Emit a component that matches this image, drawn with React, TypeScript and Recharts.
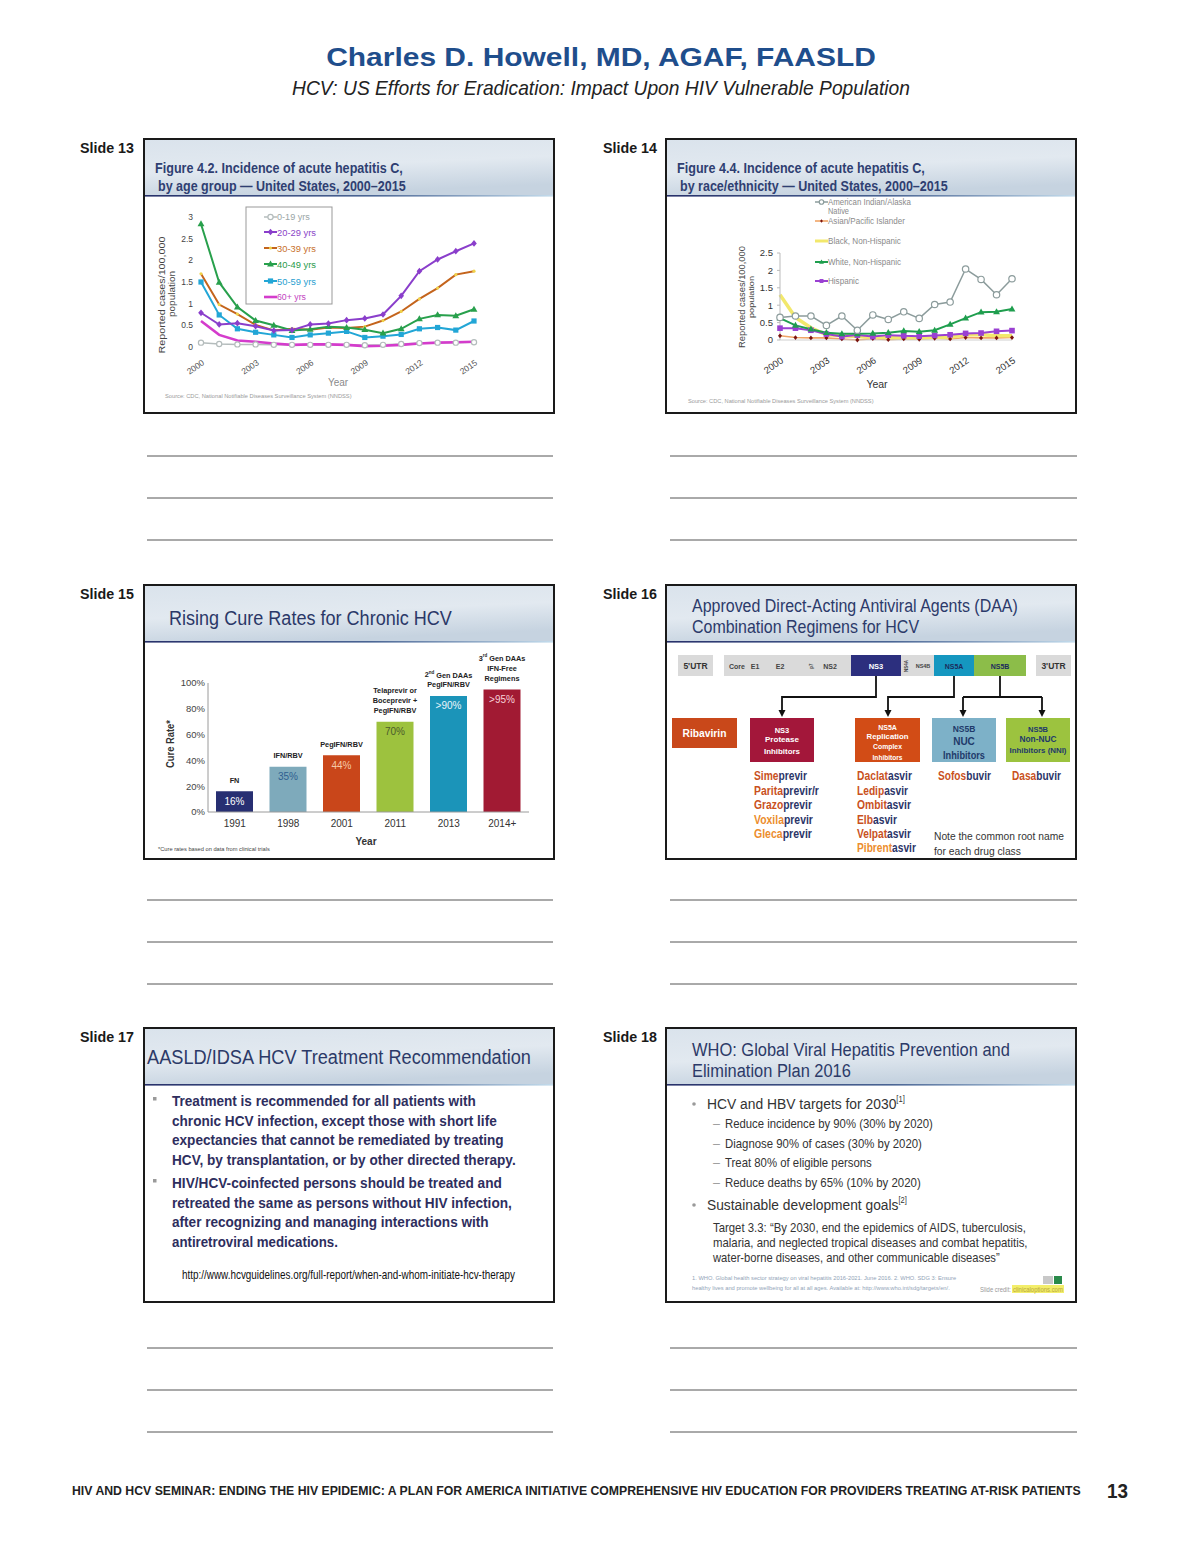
import React, { useLayoutEffect, useRef, useState } from 'react';
import { LineChart, Line, XAxis, YAxis, BarChart, Bar, LabelList, Cell } from 'recharts';

const SANS = "'Liberation Sans', Arial, Helvetica, sans-serif";

// ---- Slide 13: incidence by age group ----
const years = [2000, 2001, 2002, 2003, 2004, 2005, 2006, 2007, 2008, 2009, 2010, 2011, 2012, 2013, 2014, 2015];
const age0to19 = [0.1, 0.07, 0.06, 0.06, 0.05, 0.05, 0.05, 0.05, 0.05, 0.04, 0.05, 0.07, 0.09, 0.1, 0.1, 0.11];
const age20to29 = [0.79, 0.52, 0.55, 0.48, 0.38, 0.39, 0.52, 0.54, 0.62, 0.66, 0.75, 1.18, 1.75, 2.02, 2.21, 2.39];
const age30to39 = [1.69, 0.98, 0.76, 0.51, 0.38, 0.42, 0.4, 0.45, 0.44, 0.47, 0.61, 0.82, 1.11, 1.36, 1.67, 1.75];
const age40to49 = [2.84, 1.49, 0.92, 0.61, 0.5, 0.38, 0.41, 0.47, 0.45, 0.4, 0.32, 0.42, 0.65, 0.74, 0.72, 0.87];
const age50to59 = [1.5, 0.74, 0.42, 0.34, 0.28, 0.22, 0.28, 0.32, 0.36, 0.22, 0.25, 0.29, 0.42, 0.45, 0.39, 0.6];
const age60plus = [0.6, 0.28, 0.15, 0.12, 0.08, 0.05, 0.06, 0.06, 0.05, 0.02, 0.03, 0.05, 0.08, 0.1, 0.11, 0.12];
const ageTicks = [0, 0.5, 1, 1.5, 2, 2.5, 3];

// ---- Slide 14: incidence by race/ethnicity ----
const raceAian = [0.65, 0.69, 0.69, 0.42, 0.69, 0.28, 0.72, 0.59, 0.81, 0.62, 1.02, 1.09, 2.04, 1.74, 1.3, 1.76];
const raceAsian = [0.12, 0.07, 0.06, 0.06, 0.03, 0.0, 0.04, 0.01, 0.03, 0.02, 0.05, 0.03, 0.07, 0.06, 0.06, 0.07];
const raceBlack = [1.3, 0.65, 0.35, 0.15, 0.12, 0.1, 0.08, 0.07, 0.06, 0.06, 0.08, 0.08, 0.15, 0.15, 0.12, 0.12];
const raceWhite = [0.63, 0.42, 0.31, 0.21, 0.18, 0.18, 0.19, 0.21, 0.26, 0.24, 0.28, 0.45, 0.63, 0.8, 0.81, 0.89];
const raceHispanic = [0.34, 0.34, 0.28, 0.17, 0.1, 0.14, 0.1, 0.14, 0.12, 0.11, 0.13, 0.15, 0.19, 0.2, 0.25, 0.27];
const raceTicks = [0, 0.5, 1, 1.5, 2, 2.5];

// ---- Slide 15: cure rates ----
const cureYears = ['1991', '1998', '2001', '2011', '2013', '2014+'];
const cureRates = [16, 35, 44, 70, 90, 95];
const cureLabels = ['16%', '35%', '44%', '70%', '>90%', '>95%'];
const regimens = ['FN', 'IFN/RBV', 'PegIFN/RBV', 'Telaprevir or|Boceprevir +|PegIFN/RBV', '2nd Gen DAAs|PegIFN/RBV', '3rd Gen DAAs|IFN-Free|Regimens'];
const cureTicks = [0, 20, 40, 60, 80, 100];
const barColors = ['#272f72', '#7eaabb', '#c9461a', '#9dc23e', '#1b94b9', '#a11a33'];
const valueColors = ['#ffffff', '#2f5f90', '#f5c9a8', '#4b5a2c', '#eaf4fa', '#f7d2da'];

type Shape = 'circle' | 'square' | 'triangle' | 'diamond' | 'dot' | 'none';

const ageSeries = [
  { key: 'a0', name: '0-19 yrs', values: age0to19, color: '#b4bcbc', text: '#9aa6a6', shape: 'circle' as Shape, width: 1.5, size: 2.6 },
  { key: 'a60', name: '60+ yrs', values: age60plus, color: '#d43ccc', text: '#c244c0', shape: 'none' as Shape, width: 2.6, size: 0 },
  { key: 'a50', name: '50-59 yrs', values: age50to59, color: '#22a6d6', text: '#2aa0d0', shape: 'square' as Shape, width: 2, size: 2.6 },
  { key: 'a30', name: '30-39 yrs', values: age30to39, color: '#c4641c', text: '#c8702a', shape: 'dot' as Shape, width: 2, size: 1.6 },
  { key: 'a40', name: '40-49 yrs', values: age40to49, color: '#28a04c', text: '#2a9a4a', shape: 'triangle' as Shape, width: 2, size: 3 },
  { key: 'a20', name: '20-29 yrs', values: age20to29, color: '#8a3ecb', text: '#8a44c8', shape: 'diamond' as Shape, width: 2, size: 2.8 },
];
const ageLegendOrder = ['a0', 'a20', 'a30', 'a40', 'a50', 'a60'];

const raceSeries = [
  { key: 'asian', name: 'Asian/Pacific Islander', values: raceAsian, color: '#f0a466', shape: 'diamond' as Shape, dot: '#7a1410', width: 1.6, size: 2 },
  { key: 'black', name: 'Black, Non-Hispanic', values: raceBlack, color: '#f2e86c', shape: 'none' as Shape, dot: '#f2e86c', width: 3.5, size: 0 },
  { key: 'hisp', name: 'Hispanic', values: raceHispanic, color: '#9a40d2', shape: 'square' as Shape, dot: '#9a40d2', width: 2, size: 2.8 },
  { key: 'white', name: 'White, Non-Hispanic', values: raceWhite, color: '#1f9e4e', shape: 'triangle' as Shape, dot: '#1f9e4e', width: 2, size: 3 },
  { key: 'aian', name: 'American Indian/Alaska', values: raceAian, color: '#8c9c9c', shape: 'circle' as Shape, dot: '#8c9c9c', width: 1.5, size: 3.2 },
];

const ageRows = years.map((yr, i) => {
  const row: Record<string, number> = { year: yr };
  ageSeries.forEach((s) => { row[s.key] = s.values[i]; });
  return row;
});
const raceRows = years.map((yr, i) => {
  const row: Record<string, number> = { year: yr };
  raceSeries.forEach((s) => { row[s.key] = s.values[i]; });
  return row;
});
const cureRows = cureYears.map((yr, i) => ({ year: yr, rate: cureRates[i], label: cureLabels[i], regimen: regimens[i] }));

function Marker({ shape, cx, cy, color, size }: { shape: Shape; cx: number; cy: number; color: string; size: number }) {
  const s = size;
  if (shape === 'circle') return <circle cx={cx} cy={cy} r={s} fill="#fff" stroke={color} strokeWidth={1.2} />;
  if (shape === 'square') return <rect x={cx - s} y={cy - s} width={2 * s} height={2 * s} fill={color} />;
  if (shape === 'triangle')
    return <polygon points={`${cx},${cy - s * 1.2} ${cx - s * 1.15},${cy + s * 0.8} ${cx + s * 1.15},${cy + s * 0.8}`} fill={color} />;
  if (shape === 'diamond')
    return <polygon points={`${cx},${cy - s * 1.2} ${cx + s},${cy} ${cx},${cy + s * 1.2} ${cx - s},${cy}`} fill={color} />;
  if (shape === 'dot') return <circle cx={cx} cy={cy} r={s} fill="#f0d24a" />;
  return <g />;
}

const RotTick = (size: number, fill: string, dx: number, dy: number) => (props: any) => {
  const { x, y, payload } = props;
  const tx = x + dx;
  const ty = y + dy;
  return (
    <text x={tx} y={ty} textAnchor="end" fontSize={size} fill={fill} fontFamily={SANS} transform={`rotate(-35 ${tx} ${ty})`}>
      {payload.value}
    </text>
  );
};

type TP = {
  x: number; y: number; s: number; c?: string; w?: number; b?: boolean; i?: boolean;
  a?: 'start' | 'middle' | 'end'; rot?: number; children: React.ReactNode;
};
// text placed by its centre line; when w is given the line is squeezed to that width by a scale
function T({ x, y, s, c = '#222', w, b, i, a = 'start', rot, children }: TP) {
  const ref = useRef<SVGTextElement>(null);
  const [sx, setSx] = useState(1);
  useLayoutEffect(() => {
    if (w && ref.current) {
      const len = ref.current.getComputedTextLength();
      if (len > 0) setSx(w / len);
    }
  }, [w]);
  const tf = `translate(${x} ${y})${rot ? ` rotate(${rot})` : ''}${w ? ` scale(${sx} 1)` : ''}`;
  return (
    <text
      ref={ref} x={0} y={0} transform={tf} fontSize={s} fill={c} fontFamily={SANS}
      fontWeight={b ? 'bold' : 'normal'} fontStyle={i ? 'italic' : 'normal'}
      textAnchor={a} dominantBaseline="central"
    >
      {children}
    </text>
  );
}

const slides = [
  { x: 143, y: 138, label: 'Slide 13', lx: 80 },
  { x: 665, y: 138, label: 'Slide 14', lx: 603 },
  { x: 143, y: 584, label: 'Slide 15', lx: 80 },
  { x: 665, y: 584, label: 'Slide 16', lx: 603 },
  { x: 143, y: 1027, label: 'Slide 17', lx: 80 },
  { x: 665, y: 1027, label: 'Slide 18', lx: 603 },
];
const noteLines = [[456, 498, 540], [900, 942, 984], [1348, 1390, 1432]];

function SlideFrame({ x, y }: { x: number; y: number }) {
  return (
    <g>
      <rect x={x + 1} y={y + 1} width={410} height={274} fill="#fff" />
      <rect x={x + 1} y={y + 1} width={410} height={57} fill="url(#hdr)" />
      <rect x={x + 1} y={y + 57} width={410} height={1.6} fill="url(#hdrLine)" />
      <rect x={x + 1} y={y + 1} width={410} height={274} fill="none" stroke="#1a1a1a" strokeWidth={2} />
    </g>
  );
}

const Drug = ({ x, y, pre, suf, w, light }: { x: number; y: number; pre: string; suf: string; w: number; light?: boolean }) => (
  <T x={x} y={y} s={12} b w={w}>
    <tspan fill={light ? '#ec8d2e' : '#c9511d'}>{pre}</tspan>
    <tspan fill="#2b3568">{suf}</tspan>
  </T>
);

const ValueLabel = (props: any) => {
  const { x, y, width, value } = props;
  const idx = cureLabels.indexOf(value);
  return (
    <text x={x + width / 2} y={y + 10} textAnchor="middle" dominantBaseline="central" fontSize={10} fontFamily={SANS} fill={valueColors[idx]}>
      {value}
    </text>
  );
};

const RegimenLabel = (props: any) => {
  const { x, y, width, value } = props;
  const lines = String(value).split('|');
  const n = lines.length;
  return (
    <g>
      {lines.map((ln, k) => {
        const m = ln.match(/^(\d)(nd|rd)(.*)$/);
        const ty = y - 11 - (n - 1 - k) * 10;
        return (
          <text key={k} x={x + width / 2} y={ty} textAnchor="middle" dominantBaseline="central" fontSize={7.3} fontWeight="bold" fontFamily={SANS} fill="#222">
            {m ? (
              <>
                {m[1]}
                <tspan fontSize={4.5} dy={-3}>{m[2]}</tspan>
                <tspan dy={3}>{m[3]}</tspan>
              </>
            ) : ln}
          </text>
        );
      })}
    </g>
  );
};

export default function App() {
  return (
    <div style={{ position: 'absolute', left: 0, top: 0, width: 1200, height: 1553, background: '#fff', fontFamily: SANS }}>
      <svg width={1200} height={1553} style={{ position: 'absolute', left: 0, top: 0 }}>
        <defs>
          <linearGradient id="hdr" x1="0" y1="0" x2="0.3" y2="1">
            <stop offset="0%" stopColor="#dae3ec" />
            <stop offset="55%" stopColor="#e2e9f0" />
            <stop offset="100%" stopColor="#c6d3e0" />
          </linearGradient>
          <linearGradient id="hdrLine" x1="0" y1="0" x2="1" y2="0">
            <stop offset="0%" stopColor="#27306a" />
            <stop offset="55%" stopColor="#4a6594" />
            <stop offset="100%" stopColor="#c4dcec" />
          </linearGradient>
        </defs>

        {/* page header */}
        <T x={601} y={57} s={25} b c="#1f4e8c" a="middle" w={550}>Charles D. Howell, MD, AGAF, FAASLD</T>
        <T x={601} y={88} s={20} i c="#222" a="middle" w={618}>HCV: US Efforts for Eradication: Impact Upon HIV Vulnerable Population</T>

        {slides.map((sl) => (
          <g key={sl.label}>
            <T x={sl.lx} y={sl.y + 10} s={14} b c="#1a1a1a" w={54}>{sl.label}</T>
            <SlideFrame x={sl.x} y={sl.y} />
          </g>
        ))}
        {noteLines.map((row, r) =>
          row.map((ly) => (
            <g key={`${r}-${ly}`}>
              <line x1={147} x2={553} y1={ly} y2={ly} stroke="#555" strokeWidth={1} />
              <line x1={670} x2={1077} y1={ly} y2={ly} stroke="#555" strokeWidth={1} />
            </g>
          ))
        )}

        {/* slide 13 text */}
        <T x={155} y={168} s={14} b c="#2f3f72" w={248}>Figure 4.2. Incidence of acute hepatitis C,</T>
        <T x={158} y={186} s={14} b c="#2f3f72" w={248}>by age group — United States, 2000–2015</T>
        <T x={162} y={295} s={9} c="#444" a="middle" rot={-90} w={117}>Reported cases/100,000</T>
        <T x={172} y={294} s={9} c="#444" a="middle" rot={-90} w={46}>population</T>
        <T x={338} y={382} s={10} c="#8a8a8a" a="middle">Year</T>
        <T x={165} y={396} s={5.5} c="#9a9a9a" w={187}>Source: CDC,  National Notifiable Diseases Surveillance System (NNDSS)</T>
        <rect x={246} y={207} width={86} height={97} fill="#fff" stroke="#999" strokeWidth={1} />
        {ageLegendOrder.map((k, j) => {
          const s = ageSeries.find((q) => q.key === k)!;
          const ly = [217, 232, 248, 264, 281, 297][j];
          return (
            <g key={k}>
              <line x1={264} x2={277} y1={ly} y2={ly} stroke={s.color} strokeWidth={s.width} />
              <Marker shape={s.shape} cx={270.5} cy={ly} color={s.color} size={s.size} />
              <T x={277} y={ly} s={9.5} c={s.text} w={[33, 39, 39, 39, 39, 29][j]}>{s.name}</T>
            </g>
          );
        })}

        {/* slide 14 text */}
        <T x={677} y={168} s={14} b c="#2f3f72" w={248}>Figure 4.4. Incidence of acute hepatitis C,</T>
        <T x={680} y={186} s={14} b c="#2f3f72" w={268}>by race/ethnicity — United States, 2000–2015</T>
        <T x={742} y={297} s={8.5} c="#444" a="middle" rot={-90} w={102}>Reported cases/100,000</T>
        <T x={752} y={297} s={6.5} c="#444" a="middle" rot={-90} w={42}>population</T>
        <T x={877} y={384} s={10.5} c="#333" a="middle">Year</T>
        <T x={688} y={401} s={5.5} c="#9a9a9a" w={186}>Source: CDC, National Notifiable Diseases Surveillance System (NNDSS)</T>
        {[
          { k: 'aian', y: 202, w: 83 },
          { k: 'asian', y: 221, w: 77 },
          { k: 'black', y: 241, w: 73 },
          { k: 'white', y: 262, w: 73 },
          { k: 'hisp', y: 281, w: 31 },
        ].map((e) => {
          const s = raceSeries.find((q) => q.key === e.k)!;
          return (
            <g key={e.k}>
              <line x1={815} x2={828} y1={e.y} y2={e.y} stroke={s.color} strokeWidth={Math.min(s.width, 3)} />
              <Marker shape={s.shape} cx={821.5} cy={e.y} color={s.dot} size={s.size * 0.7} />
              <T x={828} y={e.y} s={8.5} c="#8a8a8a" w={e.w}>{s.name}</T>
            </g>
          );
        })}
        <T x={828} y={211} s={8.5} c="#8a8a8a" w={21}>Native</T>

        {/* slide 15 text */}
        <T x={169} y={617} s={21} c="#2b3868" w={283}>Rising Cure Rates for Chronic HCV</T>
        <T x={170} y={744} s={11} b c="#333" a="middle" rot={-90} w={48}>Cure Rate*</T>
        <T x={366} y={841} s={10} b c="#333" a="middle">Year</T>
        <T x={158} y={849} s={5.5} c="#444" w={112}>*Cure rates based on data from clinical trials</T>

        {/* slide 16 */}
        <T x={692} y={606} s={19} c="#2c3a6a" w={326}>Approved Direct-Acting Antiviral Agents (DAA)</T>
        <T x={692} y={627} s={19} c="#2c3a6a" w={227}>Combination Regimens for HCV</T>
        <rect x={678} y={655} width={35} height={21} fill="#dadada" />
        <T x={695.5} y={666} s={8.5} b c="#333" a="middle">5'UTR</T>
        <rect x={724} y={655} width={302} height={21} fill="#dadada" />
        <rect x={851} y={655} width={50} height={21} fill="#2c2f7e" />
        <rect x={934} y={655} width={40} height={21} fill="#1597c0" />
        <rect x={974} y={655} width={52} height={21} fill="#8cbd49" />
        <rect x={1036} y={655} width={35} height={21} fill="#dadada" />
        <T x={1053.5} y={666} s={8.5} b c="#333" a="middle">3'UTR</T>
        <T x={737} y={666} s={7} b c="#444" a="middle">Core</T>
        <T x={755} y={666} s={7} b c="#444" a="middle">E1</T>
        <T x={780} y={666} s={7} b c="#444" a="middle">E2</T>
        <T x={811} y={666} s={4.5} b c="#444" a="middle" rot={-90}>p7</T>
        <T x={830} y={666} s={7} b c="#444" a="middle">NS2</T>
        <T x={876} y={666} s={7.5} b c="#fff" a="middle">NS3</T>
        <T x={906} y={666} s={4.5} b c="#444" a="middle" rot={-90}>NS4A</T>
        <T x={923} y={666} s={5.5} b c="#444" a="middle">NS4B</T>
        <T x={954} y={666} s={7} b c="#1c2c5c" a="middle">NS5A</T>
        <T x={1000} y={666} s={7} b c="#1c2c5c" a="middle">NS5B</T>
        <g stroke="#111" strokeWidth={1.8} fill="none">
          <path d="M876 676 V697 H782 V711" />
          <path d="M954 676 V697 H888 V711" />
          <path d="M1000 676 V697 M963 697 H1042 M963 697 V711 M1042 697 V711" />
        </g>
        {[782, 888, 963, 1042].map((ax) => (
          <polygon key={ax} points={`${ax - 3.5},${710} ${ax + 3.5},${710} ${ax},${717}`} fill="#111" />
        ))}
        <rect x={672} y={718} width={65} height={30} fill="#c9481a" />
        <T x={704.5} y={733} s={10.5} b c="#fff" a="middle" w={44}>Ribavirin</T>
        <rect x={750} y={718} width={64} height={44} fill="#a3173a" />
        <T x={782} y={730} s={7.5} b c="#fff" a="middle">NS3</T>
        <T x={782} y={740} s={8} b c="#fff" a="middle" w={34}>Protease</T>
        <T x={782} y={751} s={8} b c="#fff" a="middle" w={36}>Inhibitors</T>
        <rect x={855} y={718} width={65} height={44} fill="#d24c16" />
        <T x={887.5} y={727} s={7} b c="#fff" a="middle">NS5A</T>
        <T x={887.5} y={737} s={7.5} b c="#fff" a="middle" w={42}>Replication</T>
        <T x={887.5} y={747} s={6.5} b c="#fff" a="middle" w={29}>Complex</T>
        <T x={887.5} y={757} s={7} b c="#fff" a="middle" w={30}>Inhibitors</T>
        <rect x={932} y={718} width={64} height={44} fill="#7db1c8" />
        <T x={964} y={729} s={8.5} b c="#1f3a6a" a="middle">NS5B</T>
        <T x={964} y={741} s={10} b c="#1f3a6a" a="middle">NUC</T>
        <T x={964} y={755} s={10} b c="#1f3a6a" a="middle" w={42}>Inhibitors</T>
        <rect x={1006} y={718} width={64} height={44} fill="#9cc33f" />
        <T x={1038} y={729} s={7.5} b c="#1f3a6a" a="middle">NS5B</T>
        <T x={1038} y={739} s={9} b c="#1f3a6a" a="middle" w={37}>Non-NUC</T>
        <T x={1038} y={750} s={8} b c="#1f3a6a" a="middle" w={57}>Inhibitors (NNI)</T>
        <Drug x={754} y={776} pre="Sime" suf="previr" w={53} />
        <Drug x={754} y={791} pre="Parita" suf="previr/r" w={65} />
        <Drug x={754} y={805} pre="Grazo" suf="previr" w={58} />
        <Drug x={754} y={820} pre="Voxila" suf="previr" w={59} light />
        <Drug x={754} y={834} pre="Gleca" suf="previr" w={58} light />
        <Drug x={857} y={776} pre="Daclat" suf="asvir" w={55} />
        <Drug x={857} y={791} pre="Ledip" suf="asvir" w={51} />
        <Drug x={857} y={805} pre="Ombit" suf="asvir" w={54} />
        <Drug x={857} y={820} pre="Elb" suf="asvir" w={40} />
        <Drug x={857} y={834} pre="Velpat" suf="asvir" w={54} />
        <Drug x={857} y={848} pre="Pibrent" suf="asvir" w={59} light />
        <Drug x={938} y={776} pre="Sofos" suf="buvir" w={53} />
        <Drug x={1012} y={776} pre="Dasa" suf="buvir" w={49} />
        <T x={934} y={836} s={11} c="#333" w={130}>Note the common root name</T>
        <T x={934} y={851} s={11} c="#333" w={87}>for each drug class</T>

        {/* slide 17 */}
        <T x={147} y={1057} s={20} c="#2c3a68" w={384}>AASLD/IDSA HCV Treatment Recommendation</T>
        <rect x={153} y={1097} width={3.5} height={3.5} fill="#9a9a9a" />
        <rect x={153} y={1179} width={3.5} height={3.5} fill="#9a9a9a" />
        {[
          ['Treatment is recommended for all patients with', 1101, 304],
          ['chronic HCV infection, except those with short life', 1121, 325],
          ['expectancies that cannot be remediated by treating', 1140, 332],
          ['HCV, by transplantation, or by other directed therapy.', 1160, 344],
          ['HIV/HCV-coinfected persons should be treated and', 1183, 330],
          ['retreated the same as persons without HIV infection,', 1203, 340],
          ['after recognizing and managing interactions with', 1222, 317],
          ['antiretroviral medications.', 1242, 166],
        ].map(([txt, ly, lw]) => (
          <T key={String(ly)} x={172} y={ly as number} s={14.5} b c="#2e2e5e" w={lw as number}>{txt}</T>
        ))}
        <T x={182} y={1275} s={12} c="#111" w={333}>http://www.hcvguidelines.org/full-report/when-and-whom-initiate-hcv-therapy</T>

        {/* slide 18 */}
        <T x={692} y={1050} s={19} c="#2c3a68" w={318}>WHO: Global Viral Hepatitis Prevention and</T>
        <T x={692} y={1071} s={19} c="#2c3a68" w={159}>Elimination Plan 2016</T>
        <circle cx={694} cy={1104} r={1.8} fill="#9a9a9a" />
        <T x={707} y={1104} s={15.5} c="#333" w={198}>
          HCV and HBV targets for 2030<tspan fontSize={8.5} dy={-5}>[1]</tspan>
        </T>
        {[
          ['Reduce incidence by 90% (30% by 2020)', 1124, 208],
          ['Diagnose 90% of cases (30% by 2020)', 1144, 197],
          ['Treat 80% of eligible persons', 1163, 147],
          ['Reduce deaths by 65% (10% by 2020)', 1183, 196],
        ].map(([txt, ly, lw]) => (
          <g key={String(ly)}>
            <T x={713} y={ly as number} s={12.5} c="#9a9a9a">–</T>
            <T x={725} y={ly as number} s={12.5} c="#333" w={lw as number}>{txt}</T>
          </g>
        ))}
        <circle cx={694} cy={1205} r={1.8} fill="#9a9a9a" />
        <T x={707} y={1205} s={15.5} c="#333" w={200}>
          Sustainable development goals<tspan fontSize={8.5} dy={-5}>[2]</tspan>
        </T>
        <T x={713} y={1227} s={12} c="#333" w={313}>Target 3.3: “By 2030, end the epidemics of AIDS, tuberculosis,</T>
        <T x={713} y={1242} s={12} c="#333" w={315}>malaria, and neglected tropical diseases and combat hepatitis,</T>
        <T x={713} y={1257} s={12} c="#333" w={287}>water-borne diseases, and other communicable diseases”</T>
        <T x={692} y={1278} s={6.2} c="#92a4b8" w={264}>1. WHO. Global health sector strategy on viral hepatitis 2016-2021. June 2016. 2. WHO. SDG 3: Ensure</T>
        <T x={692} y={1288} s={6.2} c="#92a4b8" w={258}>healthy lives and promote wellbeing for all at all ages. Available at: http://www.who.int/sdg/targets/en/.</T>
        <rect x={1043} y={1276} width={10} height={8} fill="#c8c8c8" />
        <rect x={1054} y={1276} width={8} height={8} fill="#2a8a4a" />
        <T x={980} y={1289} s={6.5} c="#999" w={31}>Slide credit:</T>
        <rect x={1012} y={1285} width={52} height={8} fill="#f3ee6a" />
        <T x={1013} y={1289} s={6.5} c="#b8a83a" w={50}>clinicaloptions.com</T>

        {/* footer */}
        <T x={72} y={1491} s={13} b c="#222" w={1010}>HIV AND HCV SEMINAR: ENDING THE HIV EPIDEMIC: A PLAN FOR AMERICA INITIATIVE COMPREHENSIVE HIV EDUCATION FOR PROVIDERS TREATING AT-RISK PATIENTS</T>
        <T x={1107} y={1491} s={20} b c="#222" w={21}>13</T>
      </svg>

      {/* Slide 13 chart */}
      <div style={{ position: 'absolute', left: 143, top: 138 }}>
        <LineChart width={412} height={276} data={ageRows} margin={{ top: 79, right: 81, left: 28, bottom: 37 }}>
          <XAxis dataKey="year" height={30} interval={2} axisLine={false} tickLine={false} tick={RotTick(8.5, '#555', 4, 9)} />
          <YAxis width={30} domain={[0, 3]} ticks={ageTicks} axisLine={false} tickLine={false} tickSize={0} tickMargin={8}
            tick={{ fontSize: 8.5, fill: '#444', fontFamily: SANS }} />
          {ageSeries.map((s) => (
            <Line key={s.key} dataKey={s.key} type="linear" stroke={s.color} strokeWidth={s.width} isAnimationActive={false}
              dot={(p: any) => <Marker key={`${s.key}-${p.index}`} shape={s.shape} cx={p.cx} cy={p.cy} color={s.color} size={s.size} />}
              activeDot={false} />
          ))}
        </LineChart>
      </div>

      {/* Slide 14 chart */}
      <div style={{ position: 'absolute', left: 665, top: 138 }}>
        <LineChart width={412} height={276} data={raceRows} margin={{ top: 115, right: 65, left: 85, bottom: 44 }}>
          <XAxis dataKey="year" height={30} interval={2} axisLine={{ stroke: '#cfcfcf' }} tickLine={false} tick={RotTick(9.5, '#333', 4, 14)} />
          <YAxis width={30} domain={[0, 2.5]} ticks={raceTicks} axisLine={{ stroke: '#bbb' }} tickLine={{ stroke: '#bbb' }} tickSize={3} tickMargin={4}
            tick={{ fontSize: 9.5, fill: '#333', fontFamily: SANS }} />
          {raceSeries.map((s) => (
            <Line key={s.key} dataKey={s.key} type="linear" stroke={s.color} strokeWidth={s.width} isAnimationActive={false}
              dot={(p: any) => <Marker key={`${s.key}-${p.index}`} shape={s.shape} cx={p.cx} cy={p.cy} color={s.dot} size={s.size} />}
              activeDot={false} />
          ))}
        </LineChart>
      </div>

      {/* Slide 15 chart */}
      <div style={{ position: 'absolute', left: 143, top: 584 }}>
        <BarChart width={412} height={276} data={cureRows} margin={{ top: 99, right: 26, left: 20, bottom: 18 }}>
          <XAxis dataKey="year" height={30} axisLine={{ stroke: '#9a9a9a' }} tickLine={false} tickSize={0} tickMargin={8}
            tick={{ fontSize: 10, fill: '#333', fontFamily: SANS }} />
          <YAxis width={45} domain={[0, 100]} ticks={cureTicks} axisLine={{ stroke: '#9a9a9a' }} tickLine={false} tickSize={0} tickMargin={3}
            tickFormatter={(v: number) => `${v}%`} tick={{ fontSize: 9.5, fill: '#444', fontFamily: SANS }} />
          <Bar dataKey="rate" barSize={37} isAnimationActive={false}>
            {cureRows.map((r, i) => (
              <Cell key={r.year} fill={barColors[i]} />
            ))}
            <LabelList dataKey="label" content={ValueLabel} />
            <LabelList dataKey="regimen" content={RegimenLabel} />
          </Bar>
        </BarChart>
      </div>
    </div>
  );
}
